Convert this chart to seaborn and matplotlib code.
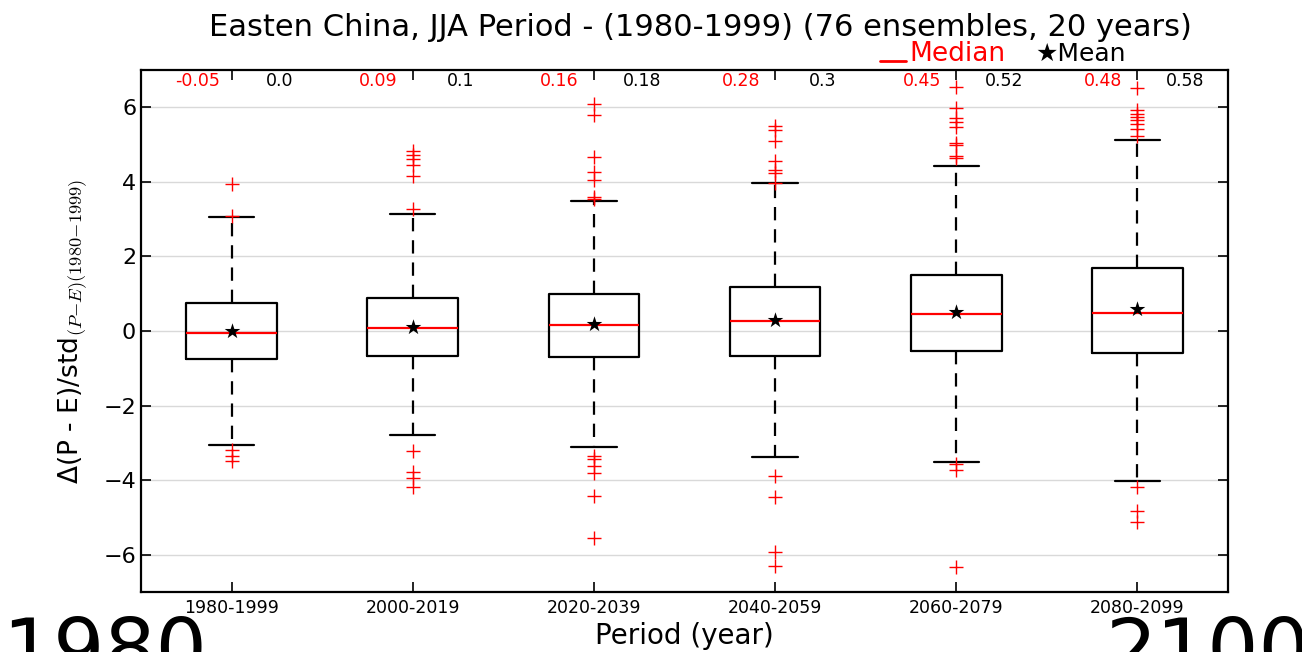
import matplotlib
matplotlib.use("Agg")
import matplotlib.pyplot as plt
import seaborn as sns
from matplotlib.lines import Line2D

# Period categories
periods = ["1980-1999", "2000-2019", "2020-2039", "2040-2059", "2060-2079", "2080-2099"]

# Box summary statistics per period
medians = [-0.05, 0.09, 0.16, 0.28, 0.45, 0.48]
means = [0.0, 0.1, 0.18, 0.3, 0.52, 0.58]
q1 = [-0.75, -0.67, -0.69, -0.67, -0.53, -0.60]
q3 = [0.75, 0.875, 0.98, 1.18, 1.49, 1.68]
whisker_low = [-3.05, -2.79, -3.12, -3.37, -3.51, -4.01]
whisker_high = [3.05, 3.14, 3.48, 3.96, 4.42, 5.12]

# Outliers beyond the whiskers
fliers_high = [
    [3.94, 3.08],
    [4.82, 4.72, 4.62, 4.45, 4.17, 3.26],
    [6.10, 5.80, 4.67, 4.27, 4.05, 3.60, 3.55],
    [5.49, 5.38, 5.09, 4.55, 4.31, 4.25, 3.97],
    [6.54, 5.99, 5.72, 5.61, 5.47, 5.05, 4.98, 4.69, 4.63],
    [6.53, 5.94, 5.83, 5.74, 5.65, 5.54, 5.43, 5.22],
]
fliers_low = [
    [-3.19, -3.35, -3.48],
    [-3.22, -3.77, -3.95, -4.19],
    [-3.35, -3.44, -3.63, -3.81, -4.42, -5.55],
    [-3.88, -4.46, -5.94, -6.29],
    [-3.57, -3.74, -6.34],
    [-4.19, -4.84, -5.12],
]

sns.set_theme(style="ticks")
plt.rcParams["font.family"] = ["DejaVu Sans"]
plt.rcParams["mathtext.fontset"] = "cm"
plt.rcParams["text.color"] = "black"
plt.rcParams["axes.labelcolor"] = "black"
plt.rcParams["xtick.color"] = "black"
plt.rcParams["ytick.color"] = "black"

W, H = 1302, 652
fig = plt.figure(figsize=(W / 100, H / 100), dpi=100)
ax = fig.add_axes([141 / W, 1 - 592 / H, (1228 - 141) / W, (592 - 70) / H])

positions = list(range(1, len(periods) + 1))
stats = []
for i, p in enumerate(periods):
    stats.append(dict(label=p, med=medians[i], q1=q1[i], q3=q3[i],
                      whislo=whisker_low[i], whishi=whisker_high[i],
                      fliers=fliers_high[i] + fliers_low[i], mean=means[i]))

ax.bxp(stats, positions=positions, widths=0.5, showmeans=False,
       boxprops=dict(color="black", linewidth=1.6),
       whiskerprops=dict(color="black", linewidth=1.6, linestyle=(0, (6, 4))),
       capprops=dict(color="black", linewidth=1.6),
       medianprops=dict(color="red", linewidth=1.6),
       flierprops=dict(marker="+", markeredgecolor="red", markersize=10,
                       markeredgewidth=1.0, linestyle="none"))

sns.scatterplot(x=positions, y=means, marker="*", s=140, color="black",
                linewidth=0, zorder=6, ax=ax)

# Median / mean values along the top of the axes
for x, md, mn in zip(positions, medians, means):
    ax.text(x - 0.19, 6.7, f"{md}", color="red", fontsize=12.5, ha="center", va="center")
    ax.text(x + 0.265, 6.7, f"{mn}", color="black", fontsize=12.5, ha="center", va="center")

ax.set_xlim(0.5, 6.5)
ax.set_ylim(-7, 7)
ax.set_yticks([-6, -4, -2, 0, 2, 4, 6])
ax.set_xticks(positions)
ax.set_xticklabels(periods, fontsize=12.5)
ax.tick_params(axis="y", labelsize=16)
ax.tick_params(direction="in", top=True, right=True, length=7, width=1.2, colors="black")
ax.tick_params(axis="x", pad=5)
ax.yaxis.grid(True, color="#d9d9d9", linewidth=1.0)
ax.xaxis.grid(False)
ax.set_axisbelow(True)
for s in ax.spines.values():
    s.set_linewidth(1.6)
    s.set_color("black")

ax.set_xlabel("Period (year)", fontsize=20, labelpad=4)
ax.set_ylabel("Δ(P - E)/std$_{(P{-}E)(1980{-}1999)}$", fontsize=19, labelpad=10)

fig.text(700 / W, 1 - 27 / H, "Easten China, JJA Period - (1980-1999) (76 ensembles, 20 years)",
         fontsize=22, ha="center", va="center")

# Legend-like annotation above the axes
fig.add_artist(Line2D([880 / W, 906 / W], [1 - 61 / H, 1 - 61 / H], color="red", linewidth=2))
fig.text(909 / W, 1 - 54 / H, "Median", color="red", fontsize=19, ha="left", va="center")
fig.text(1035 / W, 1 - 54 / H, "★Mean", color="black", fontsize=18, ha="left", va="center")

# Range endpoints in large type along the bottom edge
fig.text(2 / W, -24 / H, "1980", fontsize=58, ha="left", va="baseline")
fig.text(1105 / W, -24 / H, "2100", fontsize=58, ha="left", va="baseline")

fig.savefig("out.png", dpi=100)
